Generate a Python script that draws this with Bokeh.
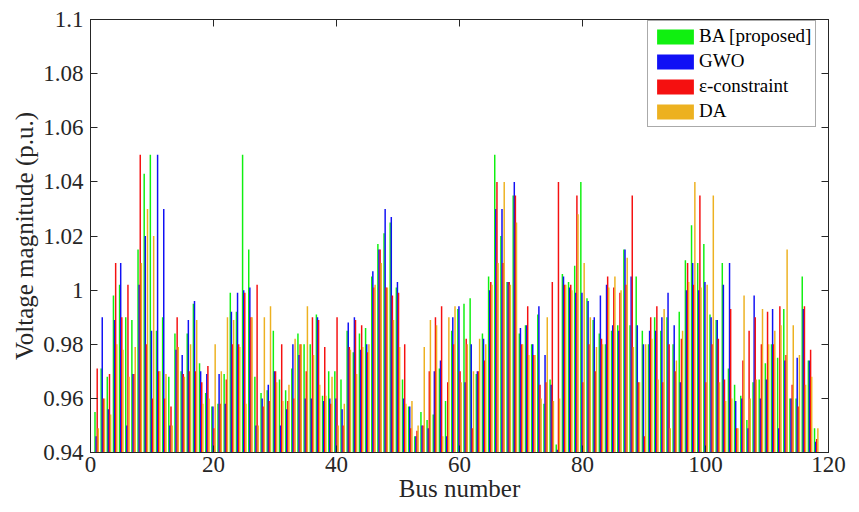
from bokeh.plotting import figure
from bokeh.models import LinearAxis, Legend, LegendItem, FixedTicker, Range1d
from bokeh.embed import file_html
from bokeh.resources import INLINE

buses = list(range(1, 119))

ba = [0.955, 0.971, 0.968, 0.998, 1.002, 0.990, 0.989, 1.015, 1.043, 1.050,
      0.985, 0.990, 0.968, 0.984, 0.970, 0.984, 0.995, 0.973, 0.962, 0.957,
      0.958, 0.969, 0.999, 0.992, 1.050, 1.015, 0.968, 0.962, 0.963, 0.985,
      0.967, 0.963, 0.971, 0.984, 0.980, 0.980, 0.991, 0.961, 0.970, 0.970,
      0.967, 0.985, 0.977, 0.984, 0.986, 1.005, 1.017, 1.021, 1.025, 1.001,
      0.967, 0.957, 0.946, 0.955, 0.952, 0.954, 0.971, 0.959, 0.985, 0.993,
      0.995, 0.997, 0.969, 0.984, 1.005, 1.050, 1.020, 1.003, 1.035, 0.984,
      0.987, 0.980, 0.991, 0.958, 0.967, 0.943, 1.006, 1.003, 1.009, 1.040,
      0.997, 0.989, 0.984, 0.980, 0.985, 0.987, 1.015, 0.987, 1.005, 0.985,
      0.980, 0.990, 0.985, 0.990, 0.980, 0.992, 1.011, 1.024, 1.010, 1.017,
      0.991, 0.989, 1.010, 0.971, 0.965, 0.961, 0.952, 0.966, 0.967, 0.973,
      0.980, 0.975, 0.993, 0.960, 0.960, 1.005, 0.974, 0.949]

gwo = [0.946, 0.990, 0.956, 0.989, 1.010, 0.950, 0.969, 1.002, 1.020, 0.985,
       1.050, 1.030, 0.950, 0.978, 0.976, 0.989, 0.996, 0.970, 0.969, 0.957,
       0.969, 0.958, 0.992, 0.999, 1.000, 1.001, 0.950, 0.960, 0.965, 0.970,
       0.950, 0.956, 0.980, 0.976, 0.960, 0.960, 0.990, 0.959, 0.960, 0.960,
       0.956, 0.988, 0.990, 0.978, 0.980, 1.007, 1.015, 1.030, 1.027, 1.003,
       0.960, 0.957, 0.946, 0.950, 0.949, 0.970, 0.974, 0.946, 0.990, 0.994,
       0.966, 0.980, 0.970, 0.982, 1.000, 1.030, 1.030, 1.003, 1.040, 0.986,
       0.987, 0.980, 0.994, 0.976, 0.965, 0.941, 1.005, 1.001, 0.999, 0.999,
       0.996, 0.990, 0.998, 1.002, 0.987, 0.985, 1.015, 1.005, 0.987, 0.980,
       0.985, 0.985, 0.990, 0.999, 0.987, 0.966, 1.000, 1.010, 1.000, 1.003,
       0.990, 0.989, 1.002, 1.010, 0.959, 0.960, 0.949, 0.998, 0.960, 0.967,
       0.993, 0.949, 0.974, 0.960, 0.975, 0.993, 0.974, 0.944]

eps_c = [0.971, 0.960, 0.969, 1.010, 0.990, 1.002, 0.969, 1.050, 0.980, 0.960,
         0.970, 0.960, 0.957, 0.990, 0.969, 0.970, 0.970, 0.966, 0.972, 0.949,
         0.958, 0.967, 0.980, 0.980, 0.999, 0.990, 1.002, 0.957, 0.959, 0.970,
         0.980, 0.959, 0.960, 0.980, 0.970, 0.990, 0.989, 0.979, 0.958, 0.990,
         0.950, 0.979, 0.989, 0.987, 0.977, 1.001, 1.015, 1.001, 0.998, 0.999,
         0.980, 0.949, 0.948, 0.950, 0.970, 0.990, 0.994, 0.966, 0.980, 0.970,
         0.982, 0.949, 0.970, 0.974, 1.003, 1.040, 1.010, 1.003, 1.035, 0.980,
         0.994, 0.976, 0.965, 0.966, 1.003, 1.040, 1.002, 1.002, 1.035, 0.966,
         0.980, 0.970, 0.982, 1.005, 1.001, 0.999, 1.002, 1.035, 0.966, 0.946,
         0.990, 0.994, 0.966, 0.980, 0.970, 0.982, 1.010, 1.002, 1.035, 0.966,
         0.980, 0.982, 0.967, 0.993, 0.949, 0.974, 0.985, 0.990, 0.980, 0.992,
         0.980, 0.994, 0.976, 0.965, 0.957, 0.994, 0.978, 0.945]

da = [0.949, 0.960, 0.954, 0.980, 0.978, 0.968, 0.979, 1.010, 1.030, 1.020,
      0.970, 0.969, 0.950, 0.979, 0.968, 0.980, 0.989, 0.958, 0.960, 0.980,
      0.970, 0.990, 0.989, 0.979, 0.958, 0.990, 0.950, 0.990, 0.994, 0.966,
      0.959, 0.965, 0.982, 0.980, 0.994, 0.976, 0.965, 0.961, 0.968, 0.950,
      0.958, 0.978, 0.969, 0.979, 0.980, 1.002, 1.010, 1.001, 0.989, 0.979,
      0.958, 0.959, 0.950, 0.979, 0.989, 0.987, 0.946, 0.990, 0.994, 0.966,
      0.980, 0.970, 0.982, 0.980, 1.002, 1.010, 1.040, 1.002, 1.025, 0.980,
      0.976, 0.976, 0.960, 0.990, 0.959, 0.960, 1.002, 1.000, 1.028, 1.010,
      0.990, 0.979, 0.980, 1.001, 1.005, 1.000, 1.012, 0.979, 0.966, 0.980,
      0.982, 0.967, 0.993, 0.949, 0.974, 0.985, 1.003, 1.040, 1.001, 1.002,
      1.035, 0.966, 0.959, 0.960, 0.949, 0.998, 0.960, 0.967, 0.993, 0.980,
      0.985, 0.987, 1.015, 0.987, 0.976, 0.965, 0.968, 0.949]

series_names = ["BA [proposed]", "GWO", "\u03b5-constraint", "DA"]
series_vals = [ba, gwo, eps_c, da]
colors = ["#10f010", "#1010f5", "#f51010", "#EDB120"]
offsets = [-0.27, -0.09, 0.09, 0.27]

x_ticks = [0, 20, 40, 60, 80, 100, 120]
y_ticks = [0.94, 0.96, 0.98, 1.0, 1.02, 1.04, 1.06, 1.08, 1.1]
y_tick_labels = ["0.94", "0.96", "0.98", "1", "1.02", "1.04", "1.06", "1.08", "1.1"]

FONT = "'Liberation Serif', 'Times New Roman', serif"
AX = "#262626"

p = figure(frame_width=738, frame_height=433,
           min_border_left=90, min_border_right=31, min_border_top=19, min_border_bottom=60,
           x_range=Range1d(0, 120), y_range=Range1d(0.94, 1.1),
           output_backend="svg", toolbar_location=None)
p.xgrid.visible = False
p.ygrid.visible = False
p.outline_line_color = AX
p.outline_line_width = 1
p.background_fill_color = "white"
p.border_fill_color = "white"

items = []
for name, vals, col, off in zip(series_names, series_vals, colors, offsets):
    xs = [b + off for b in buses]
    r = p.vbar(x=xs, top=vals, bottom=0.94, width=0.24, fill_color=col, line_color=None)
    items.append(LegendItem(label=name, renderers=[r]))

ylabels = {v: s for v, s in zip(y_ticks, y_tick_labels)}

def style_axis(ax, labels=True):
    ax.axis_line_color = AX
    ax.major_tick_line_color = AX
    ax.major_tick_in = 7
    ax.major_tick_out = 0
    ax.minor_tick_line_color = None
    ax.major_label_text_font = FONT
    ax.major_label_text_color = AX
    ax.axis_label_text_font = FONT
    ax.axis_label_text_color = AX
    ax.axis_label_text_font_style = "normal"
    if not labels:
        ax.major_label_text_color = None
        ax.major_label_text_font_size = "1px"
        ax.major_label_standoff = 0

xa = p.xaxis[0]
xa.ticker = FixedTicker(ticks=x_ticks)
style_axis(xa)
xa.major_label_text_font_size = "23px"
xa.major_label_standoff = 4
xa.axis_label = "Bus number"
xa.axis_label_text_font_size = "25px"
xa.axis_label_standoff = 0

ya = p.yaxis[0]
ya.ticker = FixedTicker(ticks=y_ticks)
ya.major_label_overrides = ylabels
style_axis(ya)
ya.major_label_text_font_size = "23px"
ya.major_label_standoff = 7
ya.axis_label = "Voltage magnitude (p.u.)"
ya.axis_label_text_font_size = "25px"
ya.axis_label_standoff = 2

ra = LinearAxis(ticker=FixedTicker(ticks=y_ticks))
style_axis(ra, labels=False)
p.add_layout(ra, "right")
ta = LinearAxis(ticker=FixedTicker(ticks=x_ticks))
style_axis(ta, labels=False)
p.add_layout(ta, "above")

legend = Legend(items=items, location=(557, 325),
                label_text_font=FONT, label_text_font_size="19px", label_text_color="black",
                glyph_width=46, glyph_height=19, label_height=19, label_standoff=1,
                spacing=3, padding=4, margin=0,
                border_line_color="#555555", border_line_width=1,
                background_fill_color="white", background_fill_alpha=1)
p.add_layout(legend, "center")

open("out.html", "w").write(file_html(p, INLINE))
